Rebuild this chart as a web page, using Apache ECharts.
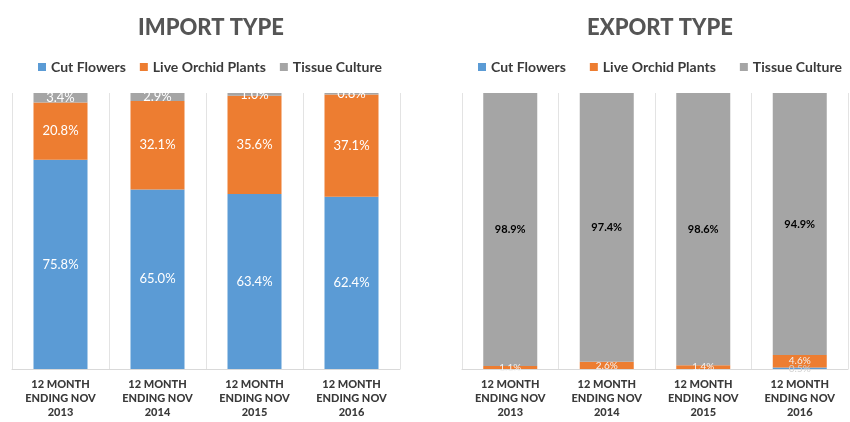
<!DOCTYPE html>
<html>
<head>
<meta charset="utf-8">
<script src="https://cdn.jsdelivr.net/npm/echarts@6/dist/echarts.min.js"></script>
<style>
  html, body { margin: 0; padding: 0; background: #ffffff; }
  #chart { width: 850px; height: 422px; }
</style>
</head>
<body>
<div id="chart"></div>
<script>
// Category labels shared by both panels
const periods = ['12 MONTH\nENDING NOV\n2013', '12 MONTH\nENDING NOV\n2014', '12 MONTH\nENDING NOV\n2015', '12 MONTH\nENDING NOV\n2016'];
const seriesNames = ['Cut Flowers', 'Live Orchid Plants', 'Tissue Culture'];

// Import shares (%)
const importCutFlowers = [75.8, 65.0, 63.4, 62.4];
const importLiveOrchid = [20.8, 32.1, 35.6, 37.1];
const importTissue = [3.4, 2.9, 1.0, 0.6];

// Export shares (%)
const exportCutFlowers = [0.0, 0.0, 0.0, 0.5];
const exportLiveOrchid = [1.1, 2.6, 1.4, 4.6];
const exportTissue = [98.9, 97.4, 98.6, 94.9];

const colors = ['#5B9BD5', '#ED7D31', '#A5A5A5'];
const font = 'Lato, "Open Sans", sans-serif';
const pct = p => (p.value > 0 ? p.value.toFixed(1) + '%' : '');

function makeAxes(gridIndex) {
  return {
    x: {
      type: 'category', gridIndex, data: periods,
      axisTick: { show: false },
      axisLine: { lineStyle: { color: '#d9d9d9' } },
      splitLine: { show: true, interval: 0, lineStyle: { color: '#e3e3e3' } },
      axisLabel: { interval: 0, color: '#3a3a3a', fontFamily: font, fontWeight: 900, fontSize: 11, lineHeight: 14, margin: 8 }
    },
    y: { type: 'value', gridIndex, min: 0, max: 100, show: false }
  };
}

function bar(name, data, idx, stack, label) {
  return {
    type: 'bar', name, data, stack,
    xAxisIndex: idx, yAxisIndex: idx,
    barWidth: 54,
    itemStyle: { color: colors[seriesNames.indexOf(name)] },
    label: Object.assign({ show: true, position: 'inside', formatter: pct, fontFamily: font, fontSize: 13, color: '#ffffff' }, label || {})
  };
}

const a0 = makeAxes(0), a1 = makeAxes(1);
const legendBase = {
  data: seriesNames, icon: 'rect', itemWidth: 8, itemHeight: 8, top: 55,
  textStyle: { color: '#3a3a3a', fontFamily: font, fontWeight: 'bold', fontSize: 14 }
};

const chart = echarts.init(document.getElementById('chart'));
chart.setOption({
  animation: false,
  title: [
    { text: 'IMPORT TYPE', left: 206, top: 12, textAlign: 'center', textStyle: { color: '#555555', fontFamily: font, fontWeight: 900, fontSize: 22 } },
    { text: 'EXPORT TYPE', left: 655, top: 12, textAlign: 'center', textStyle: { color: '#555555', fontFamily: font, fontWeight: 900, fontSize: 22 } }
  ],
  legend: [
    Object.assign({}, legendBase, { left: 33, itemGap: 14 }),
    Object.assign({}, legendBase, { left: 473, itemGap: 24 })
  ],
  grid: [
    { left: 12, width: 388, top: 93, bottom: 53 },
    { left: 462, width: 386, top: 93, bottom: 53 }
  ],
  xAxis: [a0.x, a1.x],
  yAxis: [a0.y, a1.y],
  series: [
    bar('Cut Flowers', importCutFlowers, 0, 'imp'),
    bar('Live Orchid Plants', importLiveOrchid, 0, 'imp'),
    bar('Tissue Culture', importTissue, 0, 'imp'),
    bar('Cut Flowers', exportCutFlowers, 1, 'exp', { fontSize: 10, color: '#d0d0d0' }),
    bar('Live Orchid Plants', exportLiveOrchid, 1, 'exp', { fontSize: 10, color: '#f2f2f2' }),
    bar('Tissue Culture', exportTissue, 1, 'exp', { fontSize: 11, fontWeight: 'bold', color: '#000000' })
  ]
});
</script>
</body>
</html>
